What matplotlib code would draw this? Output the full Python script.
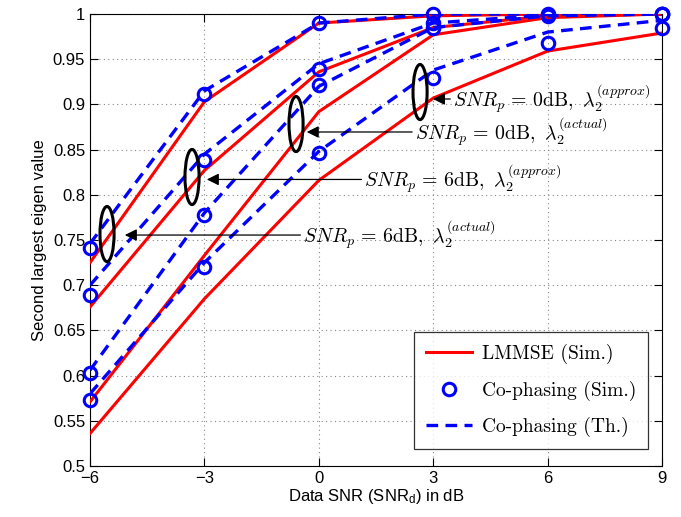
import matplotlib.pyplot as plt
import numpy as np
from matplotlib.patches import Ellipse
from matplotlib.ticker import FuncFormatter

plt.rcParams['font.family'] = ['Liberation Sans', 'DejaVu Sans']
plt.rcParams['mathtext.fontset'] = 'cm'

# Data SNR (dB)
snr_d = [-6, -3, 0, 3, 6, 9]

# LMMSE (Sim.)
lmmse_1 = [0.725, 0.903, 0.990, 0.998, 1.000, 1.000]
lmmse_2 = [0.676, 0.827, 0.936, 0.985, 0.998, 1.000]
lmmse_3 = [0.571, 0.733, 0.892, 0.977, 0.996, 1.000]
lmmse_4 = [0.536, 0.685, 0.816, 0.907, 0.959, 0.979]

# Co-phasing (Sim.)
cop_sim_1 = [0.741, 0.911, 0.990, 1.000, 1.000, 1.000]
cop_sim_2 = [0.689, 0.838, 0.939, 0.990, 0.999, 1.000]
cop_sim_3 = [0.603, 0.778, 0.921, 0.985, 0.998, 1.000]
cop_sim_4 = [0.573, 0.720, 0.846, 0.929, 0.968, 0.985]

# Co-phasing (Th.)
cop_th_1 = [0.746, 0.915, 0.990, 1.000, 1.000, 1.000]
cop_th_2 = [0.700, 0.845, 0.945, 0.990, 0.999, 1.000]
cop_th_3 = [0.606, 0.780, 0.920, 0.985, 0.998, 1.000]
cop_th_4 = [0.580, 0.725, 0.848, 0.938, 0.980, 0.993]

legend_labels = ['LMMSE (Sim.)', 'Co-phasing (Sim.)', 'Co-phasing (Th.)']

# annotations: (ellipse centre, arrow tip, text position, label)
notes = [
    ((-5.554, 0.7566), (-5.16, 0.7555), (-0.41, 0.7555), r'$SNR_p\,=\,6\mathrm{dB},\ \lambda_2^{(actual)}$'),
    ((-3.325, 0.8197), (-3.01, 0.8170), (1.19, 0.8170), r'$SNR_p\,=\,6\mathrm{dB},\ \lambda_2^{(approx)}$'),
    ((-0.598, 0.8783), (-0.39, 0.8695), (2.52, 0.8695), r'$SNR_p\,=\,0\mathrm{dB},\ \lambda_2^{(actual)}$'),
    ((2.654, 0.9137), (2.92, 0.9060), (3.52, 0.9060), r'$SNR_p\,=\,0\mathrm{dB},\ \lambda_2^{(approx)}$'),
]

red = '#ff0000'
blue = '#0000ff'

fig = plt.figure(figsize=(6.81, 5.17), dpi=100)
ax = fig.add_axes([0.1322, 0.0986, 0.8400, 0.8743])

for i, (lm, cs, ct) in enumerate(zip([lmmse_1, lmmse_2, lmmse_3, lmmse_4],
                                     [cop_sim_1, cop_sim_2, cop_sim_3, cop_sim_4],
                                     [cop_th_1, cop_th_2, cop_th_3, cop_th_4])):
    ax.plot(snr_d, lm, color=red, lw=2.2, label=legend_labels[0] if i == 0 else None, zorder=3)
    ax.plot(snr_d, cs, ls='none', marker='o', ms=9, mfc='none', mec=blue, mew=2.2,
            label=legend_labels[1] if i == 0 else None, zorder=4, clip_on=False)
    ax.plot(snr_d, ct, color=blue, lw=2.4, ls=(0, (3.5, 2.2)),
            label=legend_labels[2] if i == 0 else None, zorder=3)

for centre, tip, txt, label in notes:
    ax.add_patch(Ellipse(centre, 0.37, 0.061, fill=False, ec='black', lw=2.2, zorder=5))
    ax.annotate('', xy=tip, xytext=txt,
                arrowprops=dict(arrowstyle='-|>', color='black', lw=0.9, mutation_scale=18), zorder=5)
    ax.text(txt[0], txt[1], label, fontsize=14.3, ha='left', va='center', zorder=6)

ax.set_xlim(-6, 9)
ax.set_ylim(0.5, 1.0)
ax.set_xticks(snr_d)
ax.set_yticks(np.arange(0.5, 1.001, 0.05))
ax.yaxis.set_major_formatter(FuncFormatter(lambda v, p: '%g' % round(v, 2)))
ax.tick_params(direction='in', top=True, right=True, length=6, labelsize=12)
ax.grid(True, color='#888888', ls=(0, (1, 3)), lw=0.8)
ax.set_xlabel(r'Data SNR (SNR$\mathregular{_d}$) in dB', fontsize=12, labelpad=1)
ax.set_ylabel('Second largest eigen value', fontsize=12)

leg = ax.legend(loc='lower right', bbox_to_anchor=(0.9755, 0.0376), borderaxespad=0,
                fancybox=False, edgecolor='black', prop={'family': 'cmr10', 'size': 14},
                handlelength=2.4, handletextpad=0.5, labelspacing=0.85, borderpad=0.6)
leg.get_frame().set_linewidth(0.9)

fig.savefig('out.png', dpi=100)
